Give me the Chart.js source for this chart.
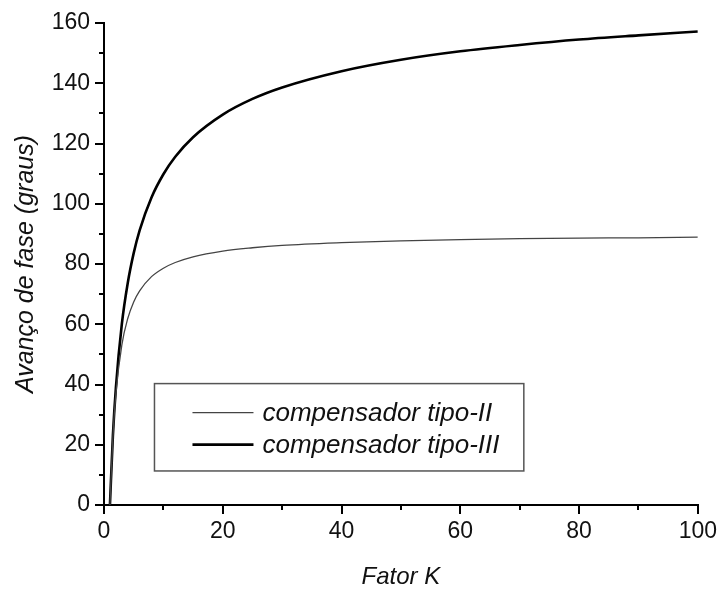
<!DOCTYPE html>
<html>
<head>
<meta charset="utf-8">
<script src="https://cdn.jsdelivr.net/npm/chart.js@4"></script>
<style>
  html, body { margin: 0; padding: 0; background: #fff; }
  #wrap { width: 721px; height: 592px; position: relative; }
</style>
</head>
<body>
<div id="wrap"><canvas id="faseChart" width="721" height="592"></canvas></div>
<script>
// Fator K (eixo x)
const fatorK = [1, 1.5, 2, 3, 4, 5, 6, 8, 10, 12, 15, 20, 25, 30, 40, 50, 60, 70, 80, 90, 100];

// Avanço de fase (graus)
const tipoII = [0, 22.6, 36.9, 53.1, 61.9, 67.4, 71.1, 75.8, 78.6, 80.5, 82.4, 84.3, 85.4, 86.2, 87.1, 87.7, 88.1, 88.4, 88.6, 88.7, 88.9];
const tipoIII = [0, 23.1, 38.9, 60.0, 73.7, 83.6, 91.2, 102.1, 109.8, 115.6, 122.1, 129.6, 134.8, 138.6, 144.0, 147.8, 150.6, 152.7, 154.5, 155.9, 157.2];

const seriesLabels = ['compensador tipo-II', 'compensador tipo-III'];
const xTitle = 'Fator K';
const yTitle = 'Avanço de fase (graus)';

const FONT = 'Arial, "Liberation Sans", sans-serif';

function toPoints(xs, ys) {
    return xs.map((x, i) => ({ x: x, y: ys[i] }));
}

// minor ticks (every 10) drawn through the scales
const minorTicks = {
    id: 'minorTicks',
    afterDraw(chart) {
        const ctx = chart.ctx;
        const xs = chart.scales.x, ys = chart.scales.y;
        ctx.save();
        ctx.strokeStyle = '#000';
        ctx.lineWidth = 2;
        ctx.beginPath();
        for (let v = 10; v < 100; v += 20) {
            const px = Math.round(xs.getPixelForValue(v));
            ctx.moveTo(px, xs.top);
            ctx.lineTo(px, xs.top + 5);
        }
        for (let v = 10; v < 160; v += 20) {
            const py = Math.round(ys.getPixelForValue(v));
            ctx.moveTo(ys.right, py);
            ctx.lineTo(ys.right - 5, py);
        }
        ctx.stroke();
        ctx.restore();
    }
};

// boxed legend inside the plot area
const boxLegend = {
    id: 'boxLegend',
    afterDraw(chart) {
        const ctx = chart.ctx;
        const xs = chart.scales.x, ys = chart.scales.y;
        const left = xs.getPixelForValue(8.5);
        const right = xs.getPixelForValue(70.7);
        const top = ys.getPixelForValue(40.3);
        const bottom = ys.getPixelForValue(11.3);
        ctx.save();
        ctx.strokeStyle = '#555';
        ctx.lineWidth = 1.5;
        ctx.strokeRect(left, top, right - left, bottom - top);
        const rowH = 32;
        const y0 = top + 29;
        ctx.font = 'italic 26px ' + FONT;
        ctx.textBaseline = 'middle';
        chart.data.datasets.forEach((ds, i) => {
            const y = y0 + i * rowH;
            ctx.strokeStyle = ds.borderColor;
            ctx.lineWidth = ds.borderWidth;
            ctx.beginPath();
            ctx.moveTo(left + 38, y);
            ctx.lineTo(left + 99, y);
            ctx.stroke();
            ctx.fillStyle = '#111';
            ctx.fillText(ds.label, left + 108, y + 1);
        });
        ctx.restore();
    }
};

const ctx = document.getElementById('faseChart').getContext('2d');
new Chart(ctx, {
    type: 'line',
    data: {
        datasets: [{
            label: seriesLabels[0],
            data: toPoints(fatorK, tipoII),
            borderColor: '#444',
            borderWidth: 1.3,
            pointRadius: 0,
            fill: false,
            cubicInterpolationMode: 'monotone'
        }, {
            label: seriesLabels[1],
            data: toPoints(fatorK, tipoIII),
            borderColor: '#000',
            borderWidth: 2.6,
            pointRadius: 0,
            fill: false,
            cubicInterpolationMode: 'monotone'
        }]
    },
    options: {
        responsive: false,
        animation: false,
        devicePixelRatio: 1,
        layout: { padding: { top: 23, right: 23, left: 0, bottom: 0 } },
        scales: {
            x: {
                type: 'linear',
                min: 0,
                max: 100,
                afterFit: (s) => { s.height = 87; },
                border: { display: true, color: '#000', width: 2 },
                grid: { drawOnChartArea: false, tickLength: 9, color: '#000', lineWidth: 2 },
                ticks: { stepSize: 20, color: '#111', padding: 4, font: { family: FONT, size: 23 }, maxRotation: 0 },
                title: { display: true, text: xTitle, color: '#111', padding: { top: 4, bottom: 0 }, font: { family: FONT, size: 24, style: 'italic' } }
            },
            y: {
                min: 0,
                max: 160,
                afterFit: (s) => { s.width = 104; },
                border: { display: true, color: '#000', width: 2 },
                grid: { drawOnChartArea: false, tickLength: 9, color: '#000', lineWidth: 2 },
                ticks: { stepSize: 20, color: '#111', padding: 5, font: { family: FONT, size: 23 } },
                title: { display: true, text: yTitle, color: '#111', padding: { top: 11, bottom: 4 }, font: { family: FONT, size: 25, style: 'italic' } }
            }
        },
        plugins: {
            legend: { display: false },
            tooltip: { enabled: false }
        }
    },
    plugins: [minorTicks, boxLegend]
});
</script>
</body>
</html>
